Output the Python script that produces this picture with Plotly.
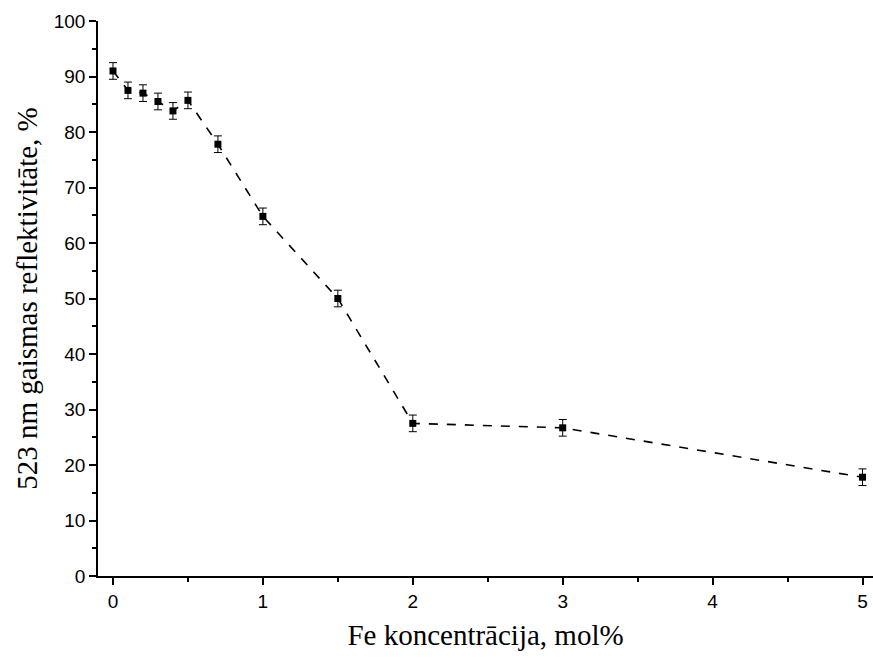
import plotly.graph_objects as go

# Fe concentration (mol%) and 523 nm reflectivity (%)
fe_conc = [0, 0.1, 0.2, 0.3, 0.4, 0.5, 0.7, 1.0, 1.5, 2.0, 3.0, 5.0]
reflectivity = [91.0, 87.5, 87.0, 85.5, 83.8, 85.7, 77.8, 64.8, 50.0, 27.5, 26.7, 17.8]
reflectivity_err = [1.5, 1.5, 1.5, 1.5, 1.5, 1.5, 1.5, 1.5, 1.5, 1.5, 1.5, 1.5]

x_ticks = [0, 1, 2, 3, 4, 5]
y_ticks = [0, 10, 20, 30, 40, 50, 60, 70, 80, 90, 100]

fig = go.Figure()
fig.add_trace(go.Scatter(
    x=fe_conc,
    y=reflectivity,
    mode="lines+markers",
    line=dict(color="black", width=1.6, dash="dash"),
    marker=dict(symbol="square", size=7, color="black"),
    error_y=dict(type="data", array=reflectivity_err, visible=True,
                 color="black", thickness=1, width=4),
    showlegend=False,
))

title_font = dict(family="Liberation Serif", size=29, color="black")
tick_font = dict(family="Arial", size=19, color="black")

fig.update_layout(
    width=873, height=658,
    margin=dict(l=98, r=0, t=21, b=82),
    plot_bgcolor="white", paper_bgcolor="white",
    font=dict(family="Arial", size=19, color="black"),
)
fig.update_xaxes(
    range=[-0.1, 5.07], tickvals=x_ticks,
    ticks="outside", ticklen=7, tickwidth=1.5, tickcolor="black",
    showline=True, linecolor="black", linewidth=1.5,
    showgrid=False, zeroline=False,
    tickfont=tick_font,
    minor=dict(ticks="outside", ticklen=4, tickwidth=1.5, tickcolor="black", dtick=0.5, tick0=0),
    title=dict(text="Fe koncentrācija, mol%", font=title_font, standoff=14),
)
fig.update_yaxes(
    range=[0, 100], tickvals=y_ticks,
    ticks="outside", ticklen=7, tickwidth=1.5, tickcolor="black",
    showline=True, linecolor="black", linewidth=1.5,
    showgrid=False, zeroline=False,
    tickfont=tick_font,
    minor=dict(ticks="outside", ticklen=4, tickwidth=1.5, tickcolor="black", dtick=5, tick0=0),
    title=dict(text="523 nm gaismas reflektivitāte, %", font=title_font, standoff=8),
)

fig.write_html("out.html")
